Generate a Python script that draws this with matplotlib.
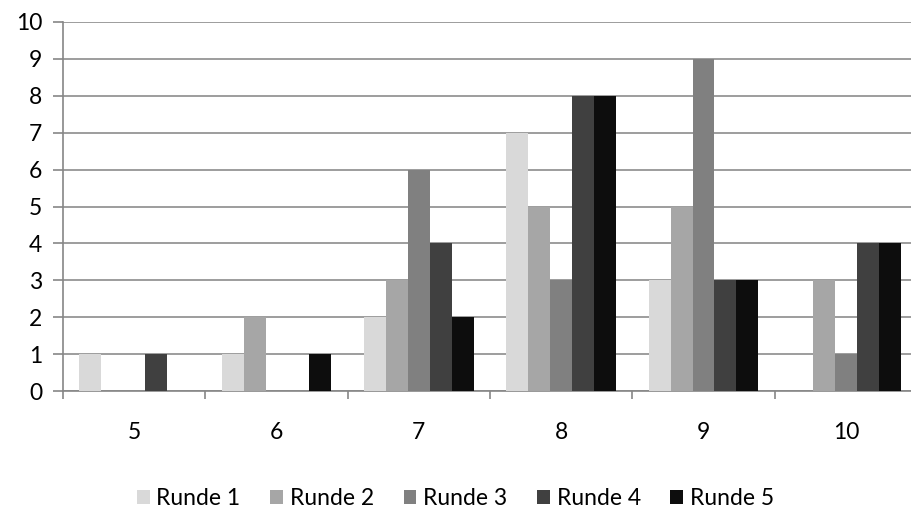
import matplotlib
matplotlib.use('Agg')
import matplotlib.pyplot as plt
import numpy as np

plt.rcParams['font.family'] = ['Lato', 'DejaVu Sans']

categories = ['5', '6', '7', '8', '9', '10']
series_names = ['Runde 1', 'Runde 2', 'Runde 3', 'Runde 4', 'Runde 5']
runde1 = [1, 1, 2, 7, 3, 0]
runde2 = [0, 2, 3, 5, 5, 3]
runde3 = [0, 0, 6, 3, 9, 1]
runde4 = [1, 0, 4, 8, 3, 4]
runde5 = [0, 1, 2, 8, 3, 4]
colors = ['#D9D9D9', '#A6A6A6', '#808080', '#404040', '#0D0D0D']

fig = plt.figure(figsize=(9.11, 5.16), dpi=100)
ax = fig.add_axes([63 / 911, 125 / 516, 854 / 911, 369 / 516])

x = np.arange(len(categories))
bw = 1 / 6.5
for i, vals in enumerate([runde1, runde2, runde3, runde4, runde5]):
    ax.bar(x + (i - 2) * bw, vals, width=bw, color=colors[i],
           label=series_names[i], zorder=3)

ax.set_xlim(-0.5, len(categories) - 0.5)
ax.set_ylim(0, 10)
ax.set_yticks(range(0, 11))
ax.yaxis.grid(True, color='#8C8C8C', linewidth=1.2, zorder=0)
ax.set_axisbelow(True)

for s in ['top', 'right']:
    ax.spines[s].set_visible(False)
for s in ['left', 'bottom']:
    ax.spines[s].set_color('#868686')
    ax.spines[s].set_linewidth(1.2)

ax.set_xticks(x)
ax.set_xticklabels(categories)
ax.tick_params(axis='x', length=0, pad=22, labelsize=16.5)
ax.set_xticks(np.arange(-0.5, len(categories), 1), minor=True)
ax.tick_params(axis='x', which='minor', length=6, color='#868686', width=1.2)
ax.tick_params(axis='y', length=7, color='#868686', width=1.2, labelsize=16.5, pad=8)

fig.legend(loc='lower center', ncol=5, frameon=False, fontsize=16.5,
           handlelength=0.55, handleheight=0.55, handletextpad=0.3,
           columnspacing=1.3, bbox_to_anchor=(0.5, -0.027))

fig.savefig('out.png', dpi=100)
